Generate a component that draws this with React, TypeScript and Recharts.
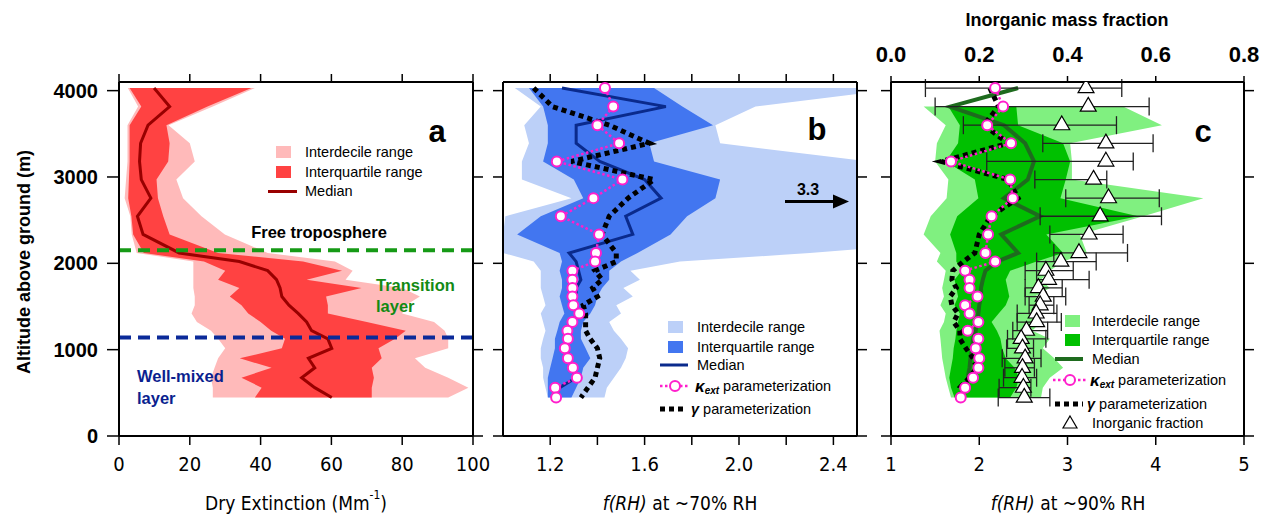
import React from "react";
import {
  ComposedChart,
  Area,
  Line,
  Scatter,
  ErrorBar,
  XAxis,
  YAxis,
  ZAxis,
  ReferenceLine,
} from "recharts";

// altitude levels (m above ground), top to bottom
const altitude = [
  4030, 3815, 3600, 3390, 3180, 2970, 2755, 2545, 2335, 2120, 2020, 1915, 1810,
  1715, 1615, 1515, 1420, 1320, 1220, 1125, 1015, 900, 790, 675, 560, 445,
];

// panel a: dry extinction (Mm-1)
const extP10 = [2.5, 5.4, 2.4, 2.4, 2.4, 2.0, 1.6, 3.2, 3.6, 5, 21, 21, 21, 21, 21.4, 21.4, 20.5, 22, 26, 28, 30, 28, 27, 26, 26.5, 26.5];
const extP25 = [3.0, 6.3, 3.0, 3.0, 3.0, 2.8, 2.6, 3.5, 4.0, 7, 24, 30, 28, 34, 31.3, 34.6, 36.5, 40, 43, 46.9, 46, 34.1, 43.1, 34.6, 40.3, 38.4];
const extMedian = [9.9, 14.3, 8.2, 6.1, 5.8, 6.3, 9.0, 5.2, 6.8, 17, 34, 42, 44.5, 45.5, 46, 48, 50.6, 53, 54.4, 59, 60.1, 53.5, 55.3, 51.6, 55.3, 60.1];
const extP75 = [37.4, 25, 13.4, 14.3, 13.9, 10.6, 11.0, 12.5, 14.3, 28, 52, 63, 53, 68.5, 58.5, 59, 59, 70, 81, 78, 73.3, 74.2, 71.4, 72, 71.4, 71.4];
const extP90 = [38.4, 26.5, 14.0, 20.0, 21.4, 16.2, 18.1, 23.3, 29.9, 42, 61, 66, 64, 80, 85, 81, 80, 89, 92, 93, 93, 83.6, 86.5, 93, 98.7, 93];

// panel b: f(RH) at ~70% RH
const f70P10 = [1.05, 1.16, 1.09, 1.11, 1.08, 1.08, 1.29, 1.01, 1.0, 1.0, 1.13, 1.16, 1.16, 1.16, 1.17, 1.18, 1.16, 1.17, 1.18, 1.17, 1.16, 1.16, 1.17, 1.17, 1.18, 1.19];
const f70P25 = [1.11, 1.17, 1.19, 1.19, 1.17, 1.3, 1.34, 1.16, 1.06, 1.24, 1.25, 1.24, 1.25, 1.25, 1.24, 1.25, 1.26, 1.24, 1.23, 1.22, 1.22, 1.21, 1.2, 1.19, 1.19, 1.19];
const f70Median = [1.25, 1.69, 1.31, 1.31, 1.41, 1.6, 1.67, 1.52, 1.55, 1.28, 1.31, 1.32, 1.33, 1.31, 1.31, 1.3, 1.31, 1.3, 1.28, 1.27, 1.27, 1.28, 1.29, 1.31, 1.24, 1.22];
const f70P75 = [1.64, 1.76, 1.89, 1.62, 1.64, 1.92, 1.9, 1.78, 1.71, 1.57, 1.5, 1.45, 1.45, 1.42, 1.4, 1.39, 1.37, 1.34, 1.33, 1.33, 1.35, 1.37, 1.34, 1.33, 1.31, 1.29];
const f70P90 = [2.7, 2.07, 1.9, 1.92, 2.55, 3.3, 3.3, 3.3, 3.3, 2.3, 1.75, 1.54, 1.58, 1.51, 1.55, 1.48, 1.5, 1.45, 1.47, 1.5, 1.53, 1.52, 1.5, 1.47, 1.44, 1.43];
const f70Kappa = [1.432, 1.467, 1.4, 1.492, 1.228, 1.506, 1.383, 1.245, 1.407, 1.394, 1.39, 1.294, 1.294, 1.294, 1.294, 1.298, 1.323, 1.294, 1.273, 1.275, 1.262, 1.275, 1.296, 1.313, 1.221, 1.225];
const f70Gamma = [1.13, 1.21, 1.45, 1.62, 1.29, 1.64, 1.53, 1.45, 1.42, 1.48, 1.48, 1.39, 1.42, 1.38, 1.4, 1.34, 1.35, 1.35, 1.35, 1.37, 1.4, 1.41, 1.4, 1.39, 1.36, 1.33];

// panel c: f(RH) at ~90% RH
const f90P10 = [null, 1.37, 1.62, 1.52, 1.5, 1.65, 1.63, 1.45, 1.37, 1.56, 1.52, 1.62, 1.6, 1.58, 1.6, 1.56, 1.62, 1.6, 1.55, 1.56, 1.57, 1.58, 1.6, 1.62, 1.65, 1.68];
const f90P25 = [null, 1.65, 1.78, 1.76, 1.62, 1.95, 1.99, 1.75, 1.67, 1.74, 1.74, 1.8, 1.72, 1.74, 1.76, 1.72, 1.78, 1.76, 1.74, 1.73, 1.71, 1.7, 1.68, 1.66, 1.68, 1.72];
const f90Median = [2.44, 1.67, 2.28, 2.52, 2.62, 2.55, 2.28, 2.69, 2.25, 2.44, 2.2, 2.07, 2.04, 2.02, 2.02, 2.0, 1.99, 1.98, 1.96, 1.93, 1.92, 1.9, 1.89, 1.87, 1.84, 1.8];
const f90P75 = [null, 2.42, 2.44, 2.95, 3.03, 2.98, 2.92, 3.8, 2.76, 2.95, 2.65, 2.35, 2.3, 2.32, 2.34, 2.3, 2.22, 2.14, 2.2, 2.24, 2.26, 2.3, 2.4, 2.45, 2.42, 2.35];
const f90P90 = [null, 3.63, 4.07, 3.03, 3.05, 3.05, 4.54, 3.86, 3.14, 3.22, 2.95, 2.8, 2.7, 2.8, 2.63, 2.75, 2.62, 2.7, 2.6, 2.8, 2.72, 2.85, 2.95, 2.8, 2.72, 2.7];
const f90Kappa = [2.18, 2.27, 2.09, 2.36, 1.68, 2.35, 2.38, 2.14, 2.1, 2.07, 2.18, 1.84, 1.89, 1.89, 1.98, 1.84, 1.89, 1.99, 1.87, 1.99, 1.96, 2.0, 1.99, 1.93, 1.84, 1.79];
const f90Gamma = [2.12, 2.22, 2.05, 2.33, 1.57, 2.33, 2.44, 2.13, 2.0, 1.95, 1.82, 1.7, 1.69, 1.74, 1.67, 1.69, 1.76, 1.71, 1.78, 1.78, 1.85, 1.93, 1.97, 1.89, 1.78, 1.8];

// inorganic mass fraction, with its spread
const inorgFrac = [0.442, 0.447, 0.387, 0.487, 0.487, 0.459, 0.493, 0.474, 0.449, 0.426, 0.385, 0.351, 0.357, 0.334, 0.345, 0.338, 0.329, 0.33, 0.307, 0.295, 0.298, 0.304, 0.298, 0.297, 0.3, 0.302];
const inorgLow = [0.078, 0.1, 0.164, 0.344, 0.217, 0.326, 0.396, 0.338, 0.36, 0.369, 0.33, 0.304, 0.33, 0.304, 0.304, 0.313, 0.286, 0.286, 0.276, 0.264, 0.262, 0.252, 0.258, 0.255, 0.245, 0.243];
const inorgHigh = [0.523, 0.585, 0.511, 0.594, 0.549, 0.489, 0.608, 0.613, 0.526, 0.536, 0.465, 0.413, 0.449, 0.388, 0.396, 0.369, 0.376, 0.386, 0.355, 0.351, 0.323, 0.34, 0.325, 0.33, 0.317, 0.36];

const altTicks = [0, 1000, 2000, 3000, 4000];
const extTicks = [0, 20, 40, 60, 80, 100];
const f70Ticks = [1.2, 1.4, 1.6, 1.8, 2.0, 2.2, 2.4];
const f70Labeled = [1.2, 1.6, 2.0, 2.4];
const f90Ticks = [1, 2, 3, 4, 5];
const fracTicks = [0, 0.2, 0.4, 0.6, 0.8];

const boundaryTop = 2150; // free troposphere / transition
const boundaryMixed = 1140; // transition / well-mixed

const rows = altitude.map((alt, i) => ({
  alt,
  extDec: [extP10[i], extP90[i]],
  extIqr: [extP25[i], extP75[i]],
  extMed: extMedian[i],
  f70Dec: [f70P10[i], f70P90[i]],
  f70Iqr: [f70P25[i], f70P75[i]],
  f70Med: f70Median[i],
  f70Kap: f70Kappa[i],
  f70Gam: f70Gamma[i],
  f90Dec: f90P10[i] == null ? null : [f90P10[i], f90P90[i]],
  f90Iqr: f90P25[i] == null ? null : [f90P25[i], f90P75[i]],
  f90Med: f90Median[i],
  f90Kap: f90Kappa[i],
  f90Gam: f90Gamma[i],
  inorg: inorgFrac[i],
  inorgErr: [inorgFrac[i] - inorgLow[i], inorgHigh[i] - inorgFrac[i]],
}));

const SANS = "'Liberation Sans', Arial, Helvetica, sans-serif";
const NARROW = "'Liberation Sans Narrow', 'DejaVu Sans Condensed', 'Liberation Sans', sans-serif";

const axisLine = { stroke: "#000", strokeWidth: 2 };
const tickLine = { stroke: "#000", strokeWidth: 1.5 };
const boldTick = { fontFamily: SANS, fontWeight: 700, fontSize: 20, fill: "#000" };
const narrowTick = { fontFamily: NARROW, fontSize: 20, fill: "#000" };
const blank = () => "";

const KAPPA = "#ff1fcc";

// vertical layout draws the y axis top-down, so both altitude axes are reversed
function yAxes(labels: boolean) {
  return [
    <YAxis
      key="l"
      type="number"
      dataKey="alt"
      domain={[0, 4100]}
      ticks={altTicks}
      interval={0}
      reversed
      allowDataOverflow
      width={labels ? 80 : 10}
      tickSize={labels ? 12 : 10}
      tickMargin={9}
      tick={boldTick}
      tickFormatter={labels ? undefined : blank}
      axisLine={axisLine}
      tickLine={tickLine}
    />,
    <YAxis
      key="r"
      yAxisId="right"
      orientation="right"
      type="number"
      dataKey="alt"
      domain={[0, 4100]}
      ticks={altTicks}
      interval={0}
      reversed
      allowDataOverflow
      width={10}
      tickSize={10}
      tickFormatter={blank}
      axisLine={axisLine}
      tickLine={tickLine}
    />,
  ];
}

function PanelA() {
  return (
    <ComposedChart width={490} height={517} data={rows} layout="vertical"
      margin={{ top: 52, right: 7, bottom: 0, left: 39 }}>
      <XAxis type="number" domain={[0, 100]} ticks={extTicks} interval={0} allowDataOverflow
        height={81} tickSize={9} tickMargin={12} tick={narrowTick} axisLine={axisLine} tickLine={tickLine} />
      <XAxis xAxisId="top" orientation="top" type="number" domain={[0, 100]} ticks={extTicks} interval={0}
        allowDataOverflow height={30} tickSize={8} tickFormatter={blank} axisLine={axisLine} tickLine={tickLine} />
      {yAxes(true)}
      <Area dataKey="extDec" type="linear" fill="#ffbaba" fillOpacity={1} stroke="none" isAnimationActive={false} />
      <Area dataKey="extIqr" type="linear" fill="#ff4242" fillOpacity={1} stroke="none" isAnimationActive={false} />
      <Line dataKey="extMed" type="linear" stroke="#990000" strokeWidth={3} dot={false} isAnimationActive={false} />
      <ReferenceLine y={boundaryTop} stroke="#169a16" strokeWidth={4} strokeDasharray="12 7" />
      <ReferenceLine y={boundaryMixed} stroke="#0b2a99" strokeWidth={4} strokeDasharray="12 7" />
    </ComposedChart>
  );
}

function PanelB() {
  return (
    <ComposedChart width={390} height={517} data={rows} layout="vertical"
      margin={{ top: 52, right: 13, bottom: 0, left: 3 }}>
      <XAxis type="number" domain={[1.0, 2.5]} ticks={f70Ticks} interval={0} allowDataOverflow
        height={81} tickSize={9} tickMargin={12} tick={narrowTick}
        tickFormatter={(v: number) => (f70Labeled.some((t) => Math.abs(t - v) < 1e-6) ? v.toFixed(1) : "")}
        axisLine={axisLine} tickLine={tickLine} />
      <XAxis xAxisId="top" orientation="top" type="number" domain={[1.0, 2.5]} ticks={f70Ticks} interval={0}
        allowDataOverflow height={30} tickSize={8} tickFormatter={blank} axisLine={axisLine} tickLine={tickLine} />
      {yAxes(false)}
      <Area dataKey="f70Dec" type="linear" fill="#bcd0f8" fillOpacity={1} stroke="none" isAnimationActive={false} />
      <Area dataKey="f70Iqr" type="linear" fill="#4276f0" fillOpacity={1} stroke="none" isAnimationActive={false} />
      <Line dataKey="f70Med" type="linear" stroke="#0a2a8c" strokeWidth={3} dot={false} isAnimationActive={false} />
      <Line dataKey="f70Gam" type="linear" stroke="#000" strokeWidth={5} strokeDasharray="5 4" dot={false} isAnimationActive={false} />
      <Line dataKey="f70Kap" type="linear" stroke={KAPPA} strokeWidth={2.5} strokeDasharray="2.5 2.5"
        dot={{ r: 5, fill: "#fff", stroke: KAPPA, strokeWidth: 2, strokeDasharray: "none" }} isAnimationActive={false} />
    </ComposedChart>
  );
}

function PanelC() {
  return (
    <ComposedChart width={406} height={517} data={rows} layout="vertical"
      margin={{ top: 5, right: 12, bottom: 0, left: 21 }}>
      <XAxis type="number" domain={[1, 5]} ticks={f90Ticks} interval={0} allowDataOverflow
        height={81} tickSize={9} tickMargin={12} tick={narrowTick} axisLine={axisLine} tickLine={tickLine} />
      <XAxis xAxisId="top" orientation="top" type="number" domain={[0, 0.8]} ticks={fracTicks} interval={0}
        allowDataOverflow height={77} tickSize={6} tickMargin={14}
        tick={{ ...boldTick, fontSize: 22 }} tickFormatter={(v: number) => v.toFixed(1)}
        axisLine={axisLine} tickLine={tickLine} />
      {yAxes(false)}
      <ZAxis range={[110, 110]} />
      <Area dataKey="f90Dec" type="linear" fill="#80f080" fillOpacity={1} stroke="none" isAnimationActive={false} />
      <Area dataKey="f90Iqr" type="linear" fill="#00c000" fillOpacity={1} stroke="none" isAnimationActive={false} />
      <Line dataKey="f90Med" type="linear" stroke="#1e6b1e" strokeWidth={4} dot={false} isAnimationActive={false} />
      <Line dataKey="f90Gam" type="linear" stroke="#000" strokeWidth={5} strokeDasharray="5 4" dot={false} isAnimationActive={false} />
      <Line dataKey="f90Kap" type="linear" stroke={KAPPA} strokeWidth={2.5} strokeDasharray="2.5 2.5"
        dot={{ r: 5, fill: "#fff", stroke: KAPPA, strokeWidth: 2, strokeDasharray: "none" }} isAnimationActive={false} />
      <Scatter xAxisId="top" dataKey="inorg" shape="triangle" fill="#fff" stroke="#000" strokeWidth={1.2}
        isAnimationActive={false}>
        <ErrorBar dataKey="inorgErr" direction="x" width={9} stroke="#222" strokeWidth={1.3} />
      </Scatter>
    </ComposedChart>
  );
}

function Kappa({ x, y }: { x: number; y: number }) {
  return (
    <text x={x} y={y} fontFamily={SANS} fontSize={14.5} dominantBaseline="central">
      <tspan fontStyle="italic" fontWeight={700} fontSize={17}>κ</tspan>
      <tspan fontStyle="italic" fontWeight={700} fontSize={10} dy={4}>ext</tspan>
      <tspan dy={-4}> parameterization</tspan>
    </text>
  );
}

function Gamma({ x, y }: { x: number; y: number }) {
  return (
    <text x={x} y={y} fontFamily={SANS} fontSize={14.5} dominantBaseline="central">
      <tspan fontStyle="italic" fontWeight={700}>γ</tspan>
      <tspan> parameterization</tspan>
    </text>
  );
}

function Overlay() {
  const legend = { fontFamily: SANS, fontSize: 14.5, dominantBaseline: "central" as const };
  return (
    <svg width={1266} height={517} style={{ position: "absolute", left: 0, top: 0, pointerEvents: "none" }}>
      {/* axis titles */}
      <text transform="translate(24,262) rotate(-90)" textAnchor="middle" dominantBaseline="central"
        fontFamily={SANS} fontWeight={700} fontSize={18}>Altitude above ground (m)</text>
      <text x={296} y={503} textAnchor="middle" dominantBaseline="central" fontFamily={NARROW} fontSize={19}>
        Dry Extinction (Mm<tspan dy={-8} fontSize={12}>-1</tspan><tspan dy={8}>)</tspan>
      </text>
      <text x={680} y={503} textAnchor="middle" dominantBaseline="central" fontFamily={NARROW} fontSize={19}>
        <tspan fontStyle="italic">f(RH)</tspan> at ~70% RH
      </text>
      <text x={1068} y={503} textAnchor="middle" dominantBaseline="central" fontFamily={NARROW} fontSize={19}>
        <tspan fontStyle="italic">f(RH)</tspan> at ~90% RH
      </text>
      <text x={1067} y={20} textAnchor="middle" dominantBaseline="central" fontFamily={SANS} fontWeight={700} fontSize={18}>
        Inorganic mass fraction
      </text>

      {/* panel a */}
      <text x={437} y={131} textAnchor="middle" dominantBaseline="central" fontFamily={SANS} fontWeight={700} fontSize={31}>a</text>
      <rect x={276} y={146} width={15} height={12} fill="#ffbaba" />
      <text x={305} y={152} {...legend}>Interdecile range</text>
      <rect x={276} y={166} width={15} height={12} fill="#ff4242" />
      <text x={305} y={172} {...legend}>Interquartile range</text>
      <line x1={268} x2={297} y1={191.5} y2={191.5} stroke="#990000" strokeWidth={3} />
      <text x={305} y={191} {...legend}>Median</text>
      <text x={319} y={232} textAnchor="middle" dominantBaseline="central" fontFamily={SANS} fontWeight={700} fontSize={16.5}>Free troposphere</text>
      <text x={376} y={285} dominantBaseline="central" fontFamily={SANS} fontWeight={700} fontSize={16.5} fill="#138a13">Transition</text>
      <text x={376} y={306} dominantBaseline="central" fontFamily={SANS} fontWeight={700} fontSize={16.5} fill="#138a13">layer</text>
      <text x={137} y={376} dominantBaseline="central" fontFamily={SANS} fontWeight={700} fontSize={16.5} fill="#0b1f8f">Well-mixed</text>
      <text x={137} y={398} dominantBaseline="central" fontFamily={SANS} fontWeight={700} fontSize={16.5} fill="#0b1f8f">layer</text>

      {/* panel b */}
      <text x={817} y={129} textAnchor="middle" dominantBaseline="central" fontFamily={SANS} fontWeight={700} fontSize={31}>b</text>
      <text x={808} y={189} textAnchor="middle" dominantBaseline="central" fontFamily={SANS} fontWeight={700} fontSize={16}>3.3</text>
      <line x1={785} x2={836} y1={201.5} y2={201.5} stroke="#000" strokeWidth={3} />
      <polygon points="833,194.5 849,201.5 833,208.5" fill="#000" />
      <rect x={668} y={321} width={15} height={12} fill="#bcd0f8" />
      <text x={697} y={327} {...legend}>Interdecile range</text>
      <rect x={668} y={341} width={15} height={12} fill="#4276f0" />
      <text x={697} y={347} {...legend}>Interquartile range</text>
      <line x1={660} x2={688} y1={365} y2={365} stroke="#0a2a8c" strokeWidth={3} />
      <text x={697} y={365} {...legend}>Median</text>
      <line x1={660} x2={690} y1={386} y2={386} stroke={KAPPA} strokeWidth={2.5} strokeDasharray="2.5 2.5" />
      <circle cx={675} cy={386} r={5} fill="#fff" stroke={KAPPA} strokeWidth={2} />
      <Kappa x={695} y={386} />
      <line x1={660} x2={687} y1={409} y2={409} stroke="#000" strokeWidth={5} strokeDasharray="5 4" />
      <Gamma x={691} y={409} />

      {/* panel c */}
      <text x={1203} y={131} textAnchor="middle" dominantBaseline="central" fontFamily={SANS} fontWeight={700} fontSize={31}>c</text>
      <rect x={1065} y={315} width={15} height={12} fill="#80f080" />
      <text x={1092} y={321} {...legend}>Interdecile range</text>
      <rect x={1065} y={334} width={15} height={12} fill="#00c000" />
      <text x={1092} y={340} {...legend}>Interquartile range</text>
      <line x1={1055} x2={1083} y1={359} y2={359} stroke="#1e6b1e" strokeWidth={4} />
      <text x={1092} y={359} {...legend}>Median</text>
      <line x1={1053} x2={1086} y1={380} y2={380} stroke={KAPPA} strokeWidth={2.5} strokeDasharray="2.5 2.5" />
      <circle cx={1070} cy={380} r={5} fill="#fff" stroke={KAPPA} strokeWidth={2} />
      <Kappa x={1090} y={380} />
      <line x1={1055} x2={1083} y1={404} y2={404} stroke="#000" strokeWidth={5} strokeDasharray="5 4" />
      <Gamma x={1087} y={404} />
      <polygon points="1070,416 1077,428 1063,428" fill="#fff" stroke="#000" strokeWidth={1.2} />
      <text x={1092} y={423} {...legend}>Inorganic fraction</text>
    </svg>
  );
}

export default function App() {
  return (
    <div style={{ position: "absolute", left: 0, top: 0, width: 1266, height: 517, background: "#fff" }}>
      <div style={{ position: "absolute", left: 0, top: 0 }}><PanelA /></div>
      <div style={{ position: "absolute", left: 490, top: 0 }}><PanelB /></div>
      <div style={{ position: "absolute", left: 860, top: 0 }}><PanelC /></div>
      <Overlay />
    </div>
  );
}
